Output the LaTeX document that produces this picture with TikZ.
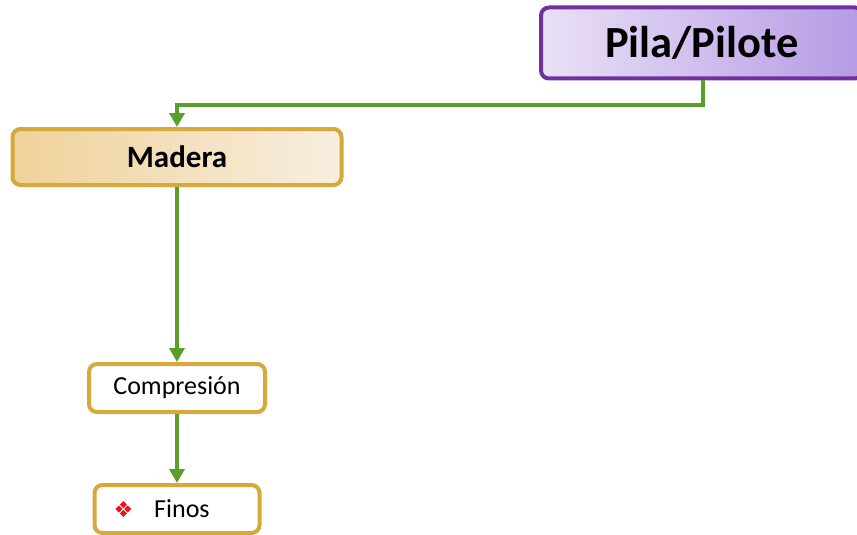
\documentclass[tikz,border=0pt]{standalone}
\usepackage{fontspec}
\setmainfont{Carlito}
\newfontfamily\symfont{DejaVu Sans}
\usetikzlibrary{arrows.meta}
\definecolor{pilaedge}{HTML}{7030A0}
\definecolor{pilaleft}{HTML}{EAE1F6}
\definecolor{pilaright}{HTML}{B69AE4}
\definecolor{goldedge}{HTML}{D6A93A}
\definecolor{woodleft}{HTML}{EED29A}
\definecolor{woodright}{HTML}{F8EEE0}
\definecolor{linkgreen}{HTML}{5B9E2A}
\definecolor{bulletred}{HTML}{E8141C}
\tikzset{
  box/.style={rectangle, rounded corners=8pt, line width=4pt, inner sep=0pt},
  rootbox/.style={box, draw=pilaedge, left color=pilaleft, right color=pilaright},
  woodbox/.style={box, draw=goldedge, left color=woodleft, right color=woodright},
  leafbox/.style={box, draw=goldedge, fill=white},
  conn/.style={draw=linkgreen, line width=4pt, -{Triangle[length=14pt,width=15pt]}}
}
\begin{document}
\begin{tikzpicture}[x=1pt,y=-1pt]
\useasboundingbox (0,0) rectangle (857,535);

\node[rootbox, minimum width=322pt, minimum height=71pt] (pila) at (702,43)
  {\fontsize{44.5}{46}\selectfont\bfseries Pila/Pilote};
\node[woodbox, minimum width=329pt, minimum height=56pt] (madera) at (177,157)
  {\fontsize{31}{32}\selectfont\bfseries Madera};
\node[leafbox, minimum width=176pt, minimum height=48pt] (comp) at (177,388)
  {\fontsize{26}{27}\selectfont Compresión};
\node[leafbox, minimum height=48pt, inner xsep=19pt, text width=127pt, align=left] (finos) at (177,509)
  {{\symfont\fontsize{22}{22}\selectfont\color{bulletred}❖}\hspace{21pt}\fontsize{26}{27}\selectfont Finos};

\draw[conn] ([xshift=1pt]pila.south) -- ++(0,24) -| (madera.north);
\draw[conn] (madera.south) -- (comp.north);
\draw[conn] (comp.south) -- (finos.north);
\end{tikzpicture}
\end{document}
